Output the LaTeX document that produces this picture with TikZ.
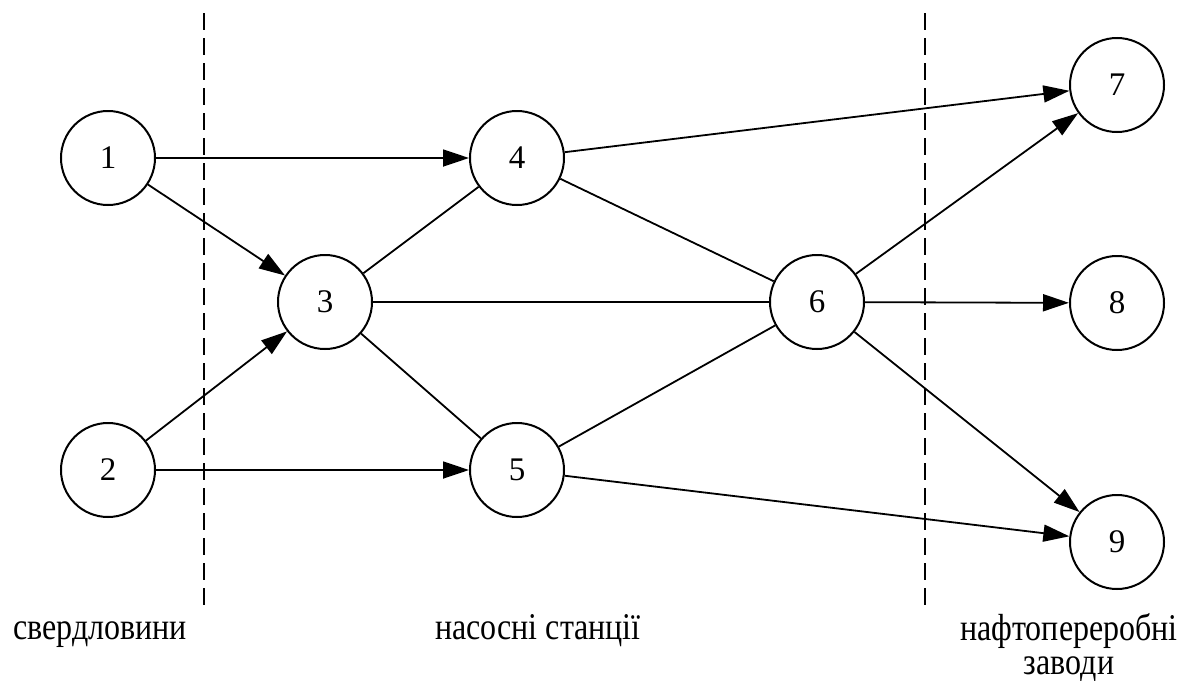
\documentclass[tikz,border=0pt]{standalone}
\usepackage{fontspec}
\setmainfont{Liberation Serif}
\usetikzlibrary{arrows.meta}
\newcommand{\tallcap}[1]{\scalebox{1}[1.18]{#1}}
\begin{document}
\begin{tikzpicture}[x=0.5pt,y=-0.5pt,
  vertex/.style={circle,draw,line width=1pt,minimum size=47pt,inner sep=0pt,font=\fontsize{16.5}{19}\selectfont},
  link/.style={line width=0.9pt},
  flow/.style={line width=0.9pt,-{Triangle[length=13pt,width=8.5pt]}},
  divider/.style={line width=0.8pt,dash pattern=on 8.5pt off 4pt},
  caption/.style={font=\fontsize{16}{17}\selectfont,anchor=base,inner sep=0pt}]
\useasboundingbox (0,0) rectangle (1188,680);

% zone dividers
\coordinate (d1t) at (204,13);
\coordinate (d1b) at (204,612);
\coordinate (d2t) at (925,13);
\coordinate (d2b) at (925,612);
\draw[divider] (d1t) -- (d1b);
\draw[divider] (d2t) -- (d2b);

% network nodes
\node[vertex] (n1) at (108,158) {1};
\node[vertex] (n2) at (108,470) {2};
\node[vertex] (n3) at (325,302) {3};
\node[vertex] (n4) at (517,158) {4};
\node[vertex] (n5) at (517,470) {5};
\node[vertex] (n6) at (817,302) {6};
\node[vertex] (n7) at (1117,85) {7};
\node[vertex] (n8) at (1117,303) {8};
\node[vertex] (n9) at (1117,542) {9};

% pipelines
\draw[flow] (n1) -- (n4);
\draw[flow] (n1) -- (n3);
\draw[flow] (n2) -- (n3);
\draw[flow] (n2) -- (n5);
\draw[link] (n3) -- (n4);
\draw[link] (n3) -- (n6);
\draw[link] (n3) -- (n5);
\draw[link] (n4) -- (n6);
\draw[link] (n5) -- (n6);
\draw[flow] (n4) -- (n7);
\draw[flow] (n6) -- (n7);
\draw[flow] (n6) -- (n8);
\draw[flow] (n6) -- (n9);
\draw[flow] (n5) -- (n9);

% zone captions
\node[caption] (c1) at (100,639) {\tallcap{свердловини}};
\node[caption] (c2) at (538,639) {\tallcap{насосні станції}};
\node[caption,anchor=north,align=center] (c3) at (1069,613)
  {\tallcap{нафтопереробні}\\\tallcap{заводи}};
\end{tikzpicture}
\end{document}
